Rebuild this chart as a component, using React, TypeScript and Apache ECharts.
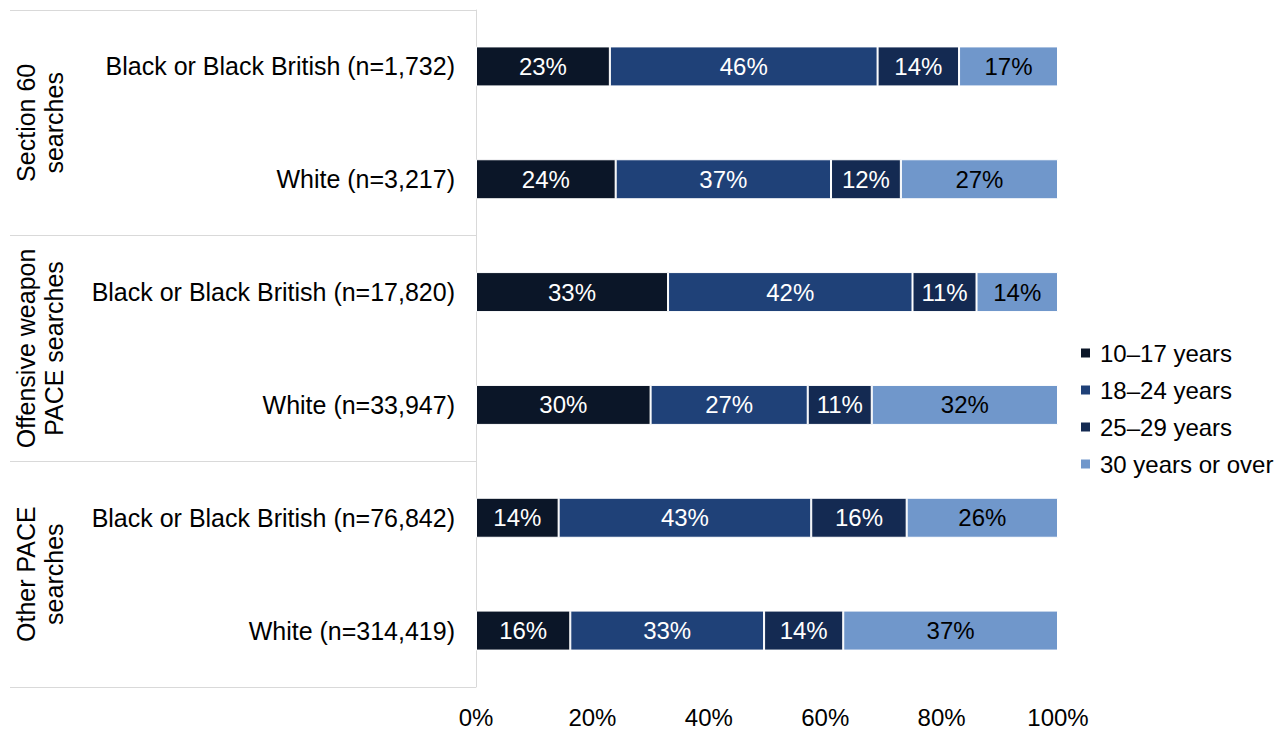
import React, { useEffect, useRef } from "react";
import * as echarts from "echarts";

const rowLabels = [
  "Black or Black British (n=1,732)",
  "White (n=3,217)",
  "Black or Black British (n=17,820)",
  "White (n=33,947)",
  "Black or Black British (n=76,842)",
  "White (n=314,419)",
];
const groupLabels = ["Section 60\nsearches", "Offensive weapon\nPACE searches", "Other PACE\nsearches"];
const seriesNames = ["10–17 years", "18–24 years", "25–29 years", "30 years or over"];
const age10to17 = [23, 24, 33, 30, 14.2, 16.2];
const age18to24 = [46, 37, 42, 27, 43.4, 33.3];
const age25to29 = [14, 12, 11, 11, 16.4, 13.6];
const age30plus = [17, 27, 14, 32, 26.0, 36.9];
const xTicks = [0, 20, 40, 60, 80, 100];

const colors = ["#0b1628", "#1f4178", "#142a52", "#7097cb"];
const labelColors = ["#ffffff", "#ffffff", "#ffffff", "#000000"];
const FONT = "'Liberation Sans', Arial, sans-serif";

export default function App() {
  const ref = useRef<HTMLDivElement>(null);
  useEffect(() => {
    if (!ref.current) return;
    const chart = echarts.init(ref.current, null, { renderer: "svg" });
    const data = [age10to17, age18to24, age25to29, age30plus];
    chart.setOption({
      animation: false,
      textStyle: { fontFamily: FONT },
      grid: { left: 476, right: 222, top: 10, bottom: 41, containLabel: false },
      legend: {
        orient: "vertical",
        left: 1079,
        top: 341,
        padding: 0,
        itemWidth: 11,
        itemHeight: 11,
        itemGap: 13,
        icon: "rect",
        textStyle: { fontSize: 24, color: "#000", fontFamily: FONT, padding: [0, 0, 0, 4] },
        data: seriesNames,
      },
      xAxis: {
        type: "value",
        min: 0,
        max: 100,
        interval: 20,
        axisLine: { show: false },
        axisTick: { show: false },
        splitLine: { show: false },
        axisLabel: {
          fontSize: 24,
          color: "#000",
          fontFamily: FONT,
          margin: 18,
          formatter: (v: number) => (xTicks.includes(v) ? v + "%" : ""),
        },
      },
      yAxis: [
        {
          type: "category",
          inverse: true,
          data: rowLabels,
          axisLine: { show: true, lineStyle: { color: "#d9d9d9", width: 1 } },
          axisTick: { show: false },
          axisLabel: { fontSize: 25, color: "#000", fontFamily: FONT, margin: 21, interval: 0 },
        },
        {
          type: "category",
          inverse: true,
          position: "left",
          offset: 0,
          data: groupLabels,
          axisLine: { show: false },
          axisTick: { show: true, length: 466, lineStyle: { color: "#d9d9d9", width: 1 } },
          axisLabel: {
            fontSize: 25,
            color: "#000",
            fontFamily: FONT,
            rotate: 90,
            margin: 408,
            lineHeight: 28,
            interval: 0,
          },
        },
      ],
      series: seriesNames.map((name, i) => ({
        name,
        type: "bar",
        stack: "total",
        yAxisIndex: 0,
        barWidth: 40,
        data: data[i],
        itemStyle: { color: colors[i], borderColor: "#ffffff", borderWidth: 1 },
        label: {
          show: true,
          position: "inside",
          fontSize: 24,
          fontFamily: FONT,
          color: labelColors[i],
          formatter: (p: any) => Math.round(p.value) + "%",
        },
      })),
    });
    return () => chart.dispose();
  }, []);
  return <div ref={ref} style={{ width: 1280, height: 729, position: "absolute", left: 0, top: 0 }} />;
}
